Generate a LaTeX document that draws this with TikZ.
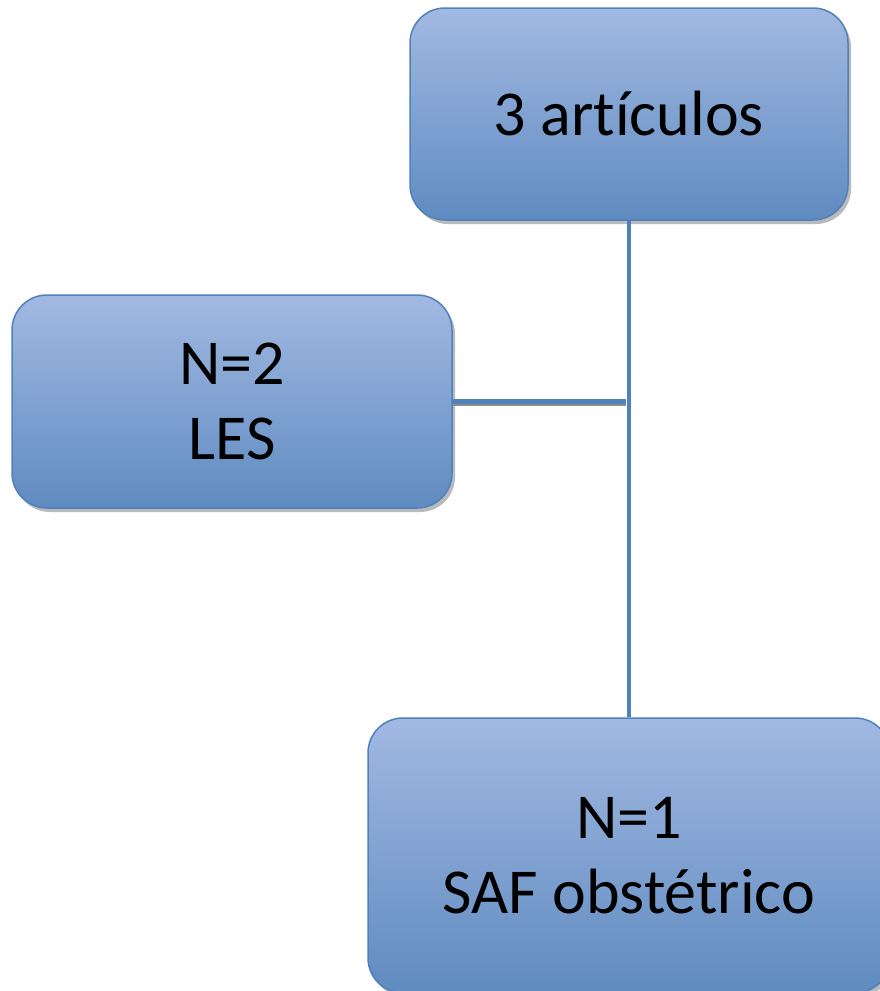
\documentclass[tikz,border=0pt]{standalone}
\usepackage{fontspec}
\setmainfont[Ligatures=NoCommon]{Carlito}
\usepackage{tikz}
\usetikzlibrary{positioning}
\usetikzlibrary{shadows}
\definecolor{boxtop}{RGB}{162,185,226}
\definecolor{boxbottom}{RGB}{95,139,192}
\definecolor{boxline}{RGB}{79,129,189}
\tikzstyle{block} = [rectangle, rounded corners=35pt, draw=boxline, line width=1.5pt, top color=boxtop, bottom color=boxbottom, drop shadow={shadow xshift=3pt, shadow yshift=-4pt, fill=black!45, opacity=0.6}, text centered, align=center, font=\fontsize{64}{75}\selectfont]
\tikzstyle{link} = [draw=boxline, line width=4.5pt]
\begin{document}
\begin{tikzpicture}[x=1pt, y=-1pt]
        \useasboundingbox (0,0) rectangle (880,991);
        \node (art) [block, minimum width=438pt, minimum height=212pt] at (629,114) {3 artículos};
        \node (les) [block, minimum width=440pt, minimum height=213pt] at (232,401.5) {N=2\\LES};
        \node (saf) [block, minimum width=522pt, minimum height=275pt] at (629,855.5) {N=1\\SAF obstétrico};
        \draw [link] (art.south) -- (saf.north);
        \draw [link, draw=black!45] ([yshift=-2pt]les.east) -- ([yshift=-2pt,xshift=-3pt]les.east -| art.south);
        \draw [link] (les.east) -- ([xshift=-3pt]les.east -| art.south);
    \end{tikzpicture}
\end{document}
